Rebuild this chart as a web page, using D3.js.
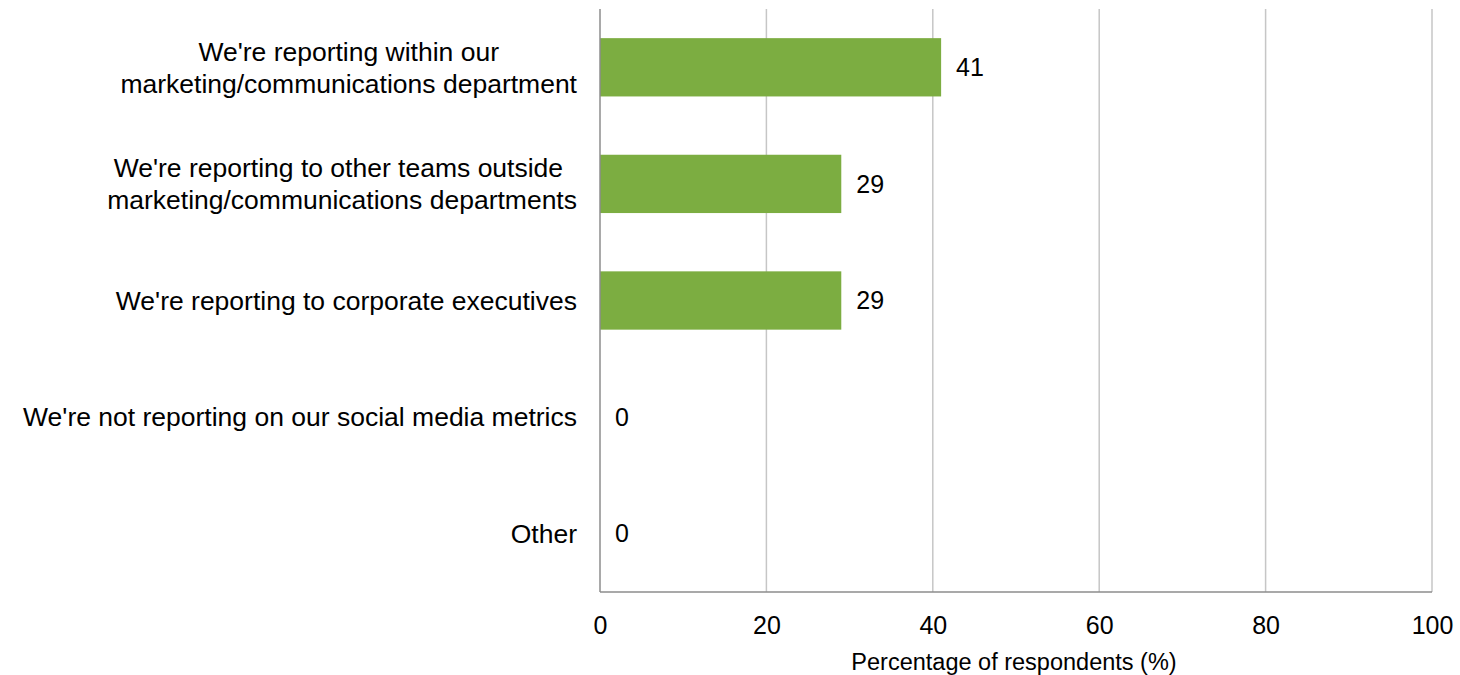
<!DOCTYPE html>
<html>
<head>
<meta charset="utf-8">
<script src="https://cdn.jsdelivr.net/npm/d3@7"></script>
<style>
  html, body { margin: 0; padding: 0; background: #fff; }
  svg { display: block; font-family: "Liberation Sans", Arial, sans-serif; }
  text { white-space: pre; }
</style>
</head>
<body>
<svg id="chart" width="1460" height="675"></svg>
<script>
// Reporting of social media metrics: share of respondents per answer
const categories = [
  ["We're reporting within our", "marketing/communications department"],
  ["We're reporting to other teams outside ", "marketing/communications departments"],
  ["We're reporting to corporate executives"],
  ["We're not reporting on our social media metrics"],
  ["Other"]
];
const values = [41, 29, 29, 0, 0];
const xTicks = [0, 20, 40, 60, 80, 100];
const xTitle = "Percentage of respondents (%)";

const svg = d3.select("#chart");
const plotLeft = 600, plotRight = 1432, plotTop = 9, plotBottom = 592;

const x = d3.scaleLinear().domain([0, 100]).range([plotLeft, plotRight]);
const y = d3.scaleBand().domain(d3.range(categories.length))
  .range([plotTop, plotBottom]).paddingInner(0.5).paddingOuter(0.25);

// Vertical gridlines
svg.append("g").selectAll("line").data(xTicks.filter(d => d > 0)).join("line")
  .attr("x1", d => x(d)).attr("x2", d => x(d))
  .attr("y1", plotTop).attr("y2", plotBottom)
  .attr("stroke", "#c6c6c6").attr("stroke-width", 1.5);

// Bars
svg.append("g").selectAll("rect").data(values).join("rect")
  .attr("x", x(0))
  .attr("y", (d, i) => y(i))
  .attr("width", d => x(d) - x(0))
  .attr("height", y.bandwidth())
  .attr("fill", "#7cad41");

// Axis lines
svg.append("line").attr("x1", plotLeft).attr("x2", plotLeft).attr("y1", plotTop).attr("y2", plotBottom)
  .attr("stroke", "#8c8c8c").attr("stroke-width", 1.5);
svg.append("line").attr("x1", plotLeft).attr("x2", plotRight).attr("y1", plotBottom).attr("y2", plotBottom)
  .attr("stroke", "#8c8c8c").attr("stroke-width", 1.5);

// X tick labels
const xAxis = d3.axisBottom(x).tickValues(xTicks).tickSize(0).tickPadding(0);
const gx = svg.append("g").attr("transform", `translate(0,${plotBottom})`).call(xAxis);
gx.select(".domain").remove();
gx.selectAll("text")
  .attr("y", 33).attr("dy", "0.35em")
  .attr("font-family", "Liberation Sans, Arial, sans-serif")
  .attr("font-size", 25).attr("fill", "#000");

// X axis title
svg.append("text")
  .attr("x", 1014).attr("y", 662).attr("dy", "0.35em")
  .attr("text-anchor", "middle").attr("font-size", 23.5).attr("fill", "#000")
  .text(xTitle);

// Value labels
svg.append("g").selectAll("text").data(values).join("text")
  .attr("x", d => x(d) + 15)
  .attr("y", (d, i) => y(i) + y.bandwidth() / 2).attr("dy", "0.35em")
  .attr("font-size", 25).attr("fill", "#000")
  .text(d => d);

// Category labels: lines centred on a block right-aligned to the axis
const labelRight = 577, lineH = 32;
categories.forEach((lines, i) => {
  const g = svg.append("g");
  const cy = y(i) + y.bandwidth() / 2;
  const texts = lines.map((s, k) => g.append("text")
    .attr("font-size", 26.5).attr("fill", "#000")
    .attr("text-anchor", "middle")
    .attr("y", cy + (k - (lines.length - 1) / 2) * lineH).attr("dy", "0.35em")
    .text(s));
  const w = d3.max(texts, t => t.node().getComputedTextLength());
  texts.forEach(t => t.attr("x", labelRight - w / 2));
});
</script>
</body>
</html>
